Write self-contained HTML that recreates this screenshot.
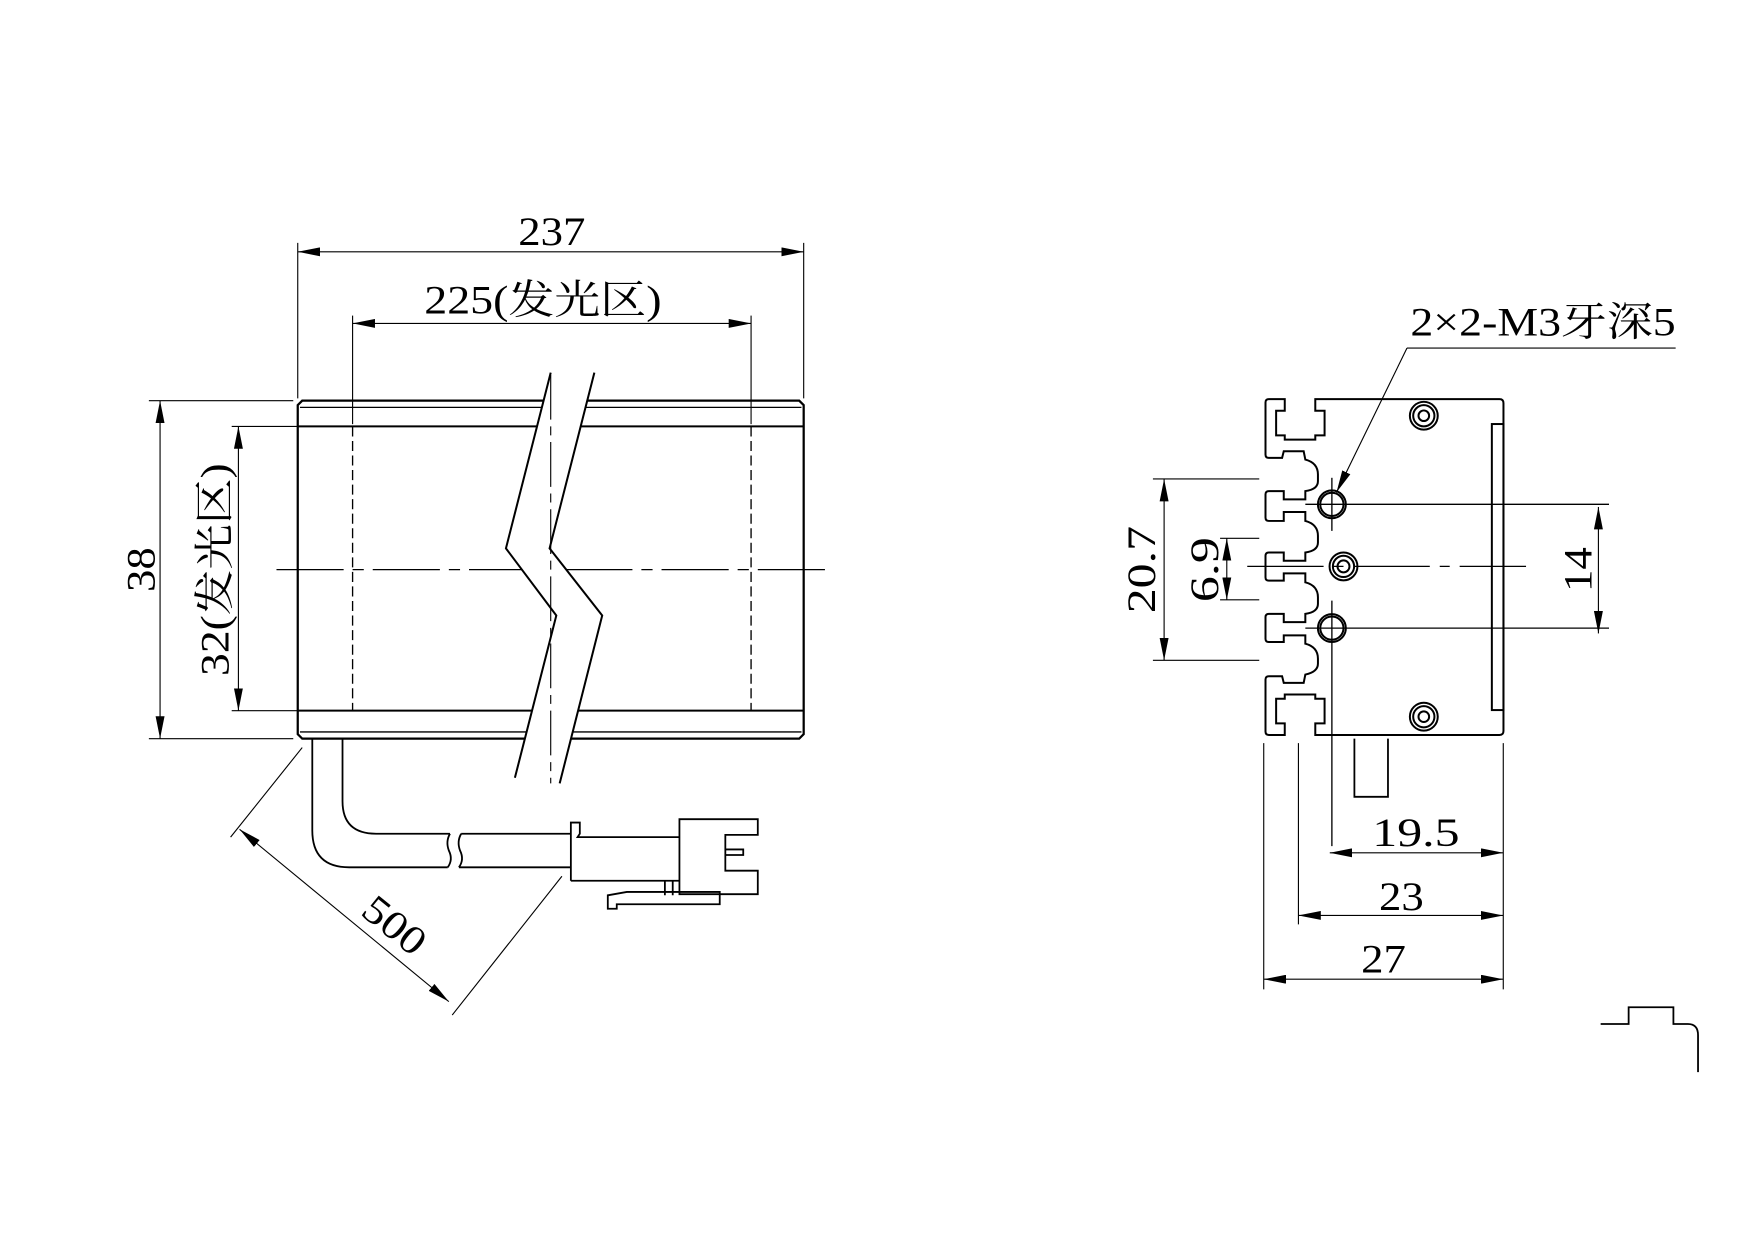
<!DOCTYPE html>
<html><head><meta charset="utf-8"><style>html,body{margin:0;padding:0;background:#fff}svg{display:block}text{font-family:"Liberation Serif","Noto Serif CJK SC",serif;fill:#000}</style></head>
<body>
<svg width="1754" height="1240" viewBox="0 0 1567 1108" preserveAspectRatio="none" xmlns="http://www.w3.org/2000/svg">
<defs>
<marker id="a" viewBox="0 0 20 8" refX="20" refY="4" markerWidth="20" markerHeight="8" markerUnits="userSpaceOnUse" orient="auto-start-reverse"><path d="M0,0 L20,4 L0,8 z" fill="#000"/></marker>
</defs>
<g fill="none" stroke="#000" stroke-width="1.2">
<path d="M270,358 L714,358 L718,362 L718,656 L714,660 L270,660 L266,656 L266,362 z" stroke-width="2"/>
<line x1="268" y1="364" x2="716" y2="364"/>
<line x1="268" y1="654" x2="716" y2="654"/>
<line x1="266" y1="381" x2="718" y2="381" stroke-width="1.8"/>
<line x1="266" y1="635" x2="718" y2="635" stroke-width="1.8"/>
<line x1="315" y1="381" x2="315" y2="635" stroke-dasharray="9,4"/>
<line x1="671" y1="381" x2="671" y2="635" stroke-dasharray="9,4"/>
<line x1="247" y1="509" x2="740" y2="509" stroke-dasharray="60,8,10,8"/>
</g>
<path d="M492,333 L452,490 L497,550 L460,695 L500,700 L538,550 L491,490 L531,333 z" fill="#fff" stroke="none"/>
<line x1="492" y1="335" x2="492" y2="700" stroke="#000" stroke-width="1" stroke-dasharray="40,6,8,6"/>
<g fill="none" stroke="#000" stroke-width="1.8">
<polyline points="492,333 452,490 497,550 460,695"/>
<polyline points="531,333 491,490 538,550 500,700"/>
</g>
<g fill="none" stroke="#000" stroke-width="1">
<line x1="266" y1="217" x2="266" y2="356"/>
<line x1="718" y1="217" x2="718" y2="356"/>
<line x1="266" y1="225" x2="718" y2="225" marker-start="url(#a)" marker-end="url(#a)"/>
<line x1="315" y1="282" x2="315" y2="379"/>
<line x1="671" y1="282" x2="671" y2="379"/>
<line x1="315" y1="289" x2="671" y2="289" marker-start="url(#a)" marker-end="url(#a)"/>
<line x1="133" y1="358" x2="262" y2="358"/>
<line x1="133" y1="660" x2="262" y2="660"/>
<line x1="143" y1="358" x2="143" y2="660" marker-start="url(#a)" marker-end="url(#a)"/>
<line x1="207" y1="381" x2="266" y2="381"/>
<line x1="207" y1="635" x2="266" y2="635"/>
<line x1="213" y1="381" x2="213" y2="635" marker-start="url(#a)" marker-end="url(#a)"/>
<line x1="270" y1="668" x2="206" y2="748"/>
<line x1="502" y1="783" x2="404" y2="907"/>
<line x1="214" y1="741" x2="401" y2="895" marker-start="url(#a)" marker-end="url(#a)"/>
</g>
<g fill="none" stroke="#000" stroke-width="1.6">
<path d="M279,660 L279,742 Q279,775 312,775 L400,775"/>
<path d="M306,660 L306,716 Q306,745 336,745 L402,745"/>
<path d="M402,745 Q398,752 401,760 Q405,768 400,775"/>
<path d="M412,745 Q408,752 411,760 Q415,768 410,775"/>
<line x1="412" y1="745" x2="510" y2="745"/>
<line x1="410" y1="775" x2="510" y2="775"/>
<path d="M510,787 L510,735 L518,735 L518,745 L516,748 L607,748"/>
<line x1="510" y1="787" x2="607" y2="787"/>
<path d="M607,732 L677,732 L677,746 L648,746 L648,778 L677,778 L677,799 L607,799 z"/>
<path d="M648,759 L664,759 L664,764 L648,764"/>
<path d="M594,787 L594,800 M601,787 L601,800"/>
<path d="M543,812 L543,800 L560,797 L605,797 L643,797 L643,808 L551,808 L551,812 z"/>
</g>
<g font-size="36">
<text x="493" y="219" text-anchor="middle" textLength="60" lengthAdjust="spacingAndGlyphs">237</text>
<text x="485" y="280" text-anchor="middle" textLength="212" lengthAdjust="spacingAndGlyphs">225(发光区)</text>
<text transform="translate(138,509) rotate(-90)" text-anchor="middle" textLength="40" lengthAdjust="spacingAndGlyphs">38</text>
<text transform="translate(204,509) rotate(-90)" text-anchor="middle" textLength="190" lengthAdjust="spacingAndGlyphs">32(发光区)</text>
<text transform="translate(345,836) rotate(39)" text-anchor="middle" textLength="62" lengthAdjust="spacingAndGlyphs">500</text>
</g>
<g transform="translate(985.3,311.3) scale(0.2965)" fill="none" stroke="#000" stroke-width="6">
<path d="M640,153 L1195,153 Q1207,153 1207,165 L1207,1153 Q1207,1165 1195,1165 L640,1165 L640,1130 L668,1130 L668,1056 L640,1056 L640,1043 L548,1043 L548,1056 L522,1056 L522,1130 L548,1130 L548,1165 L500,1165 Q490,1165 490,1155 L490,998 Q490,988 500,988 L540,988 L545,1008 L605,1008 L610,983 Q648,975 648,950 L648,935 Q648,900 610,890 L610,865 L545,865 L545,885 L500,885 Q490,885 490,875 L490,810 Q490,800 500,800 L545,800 L545,825 L610,825 L610,800 Q648,795 648,770 L648,750 Q648,715 610,705 L610,678 L545,678 L545,700 L500,700 Q490,700 490,690 L490,625 Q490,615 500,615 L545,615 L545,640 L610,640 L610,615 Q648,610 648,585 L648,565 Q648,530 610,520 L610,493 L545,493 L545,520 L500,520 Q490,520 490,510 L490,440 Q490,430 500,430 L545,430 L545,455 L610,455 L610,430 Q648,425 648,400 L648,380 Q648,345 610,335 L605,310 L545,310 L540,330 L500,330 Q490,330 490,320 L490,163 Q490,153 500,153 L548,153 L548,188 L522,188 L522,262 L548,262 L548,275 L640,275 L640,262 L668,262 L668,188 L640,188 z"/>
<rect x="1172" y="228" width="35" height="862"/>
<circle cx="967" cy="203" r="42"/><circle cx="967" cy="203" r="32"/><circle cx="967" cy="203" r="16"/>
<circle cx="967" cy="1110" r="42"/><circle cx="967" cy="1110" r="32"/><circle cx="967" cy="1110" r="16"/>
<circle cx="690" cy="470" r="42"/><circle cx="690" cy="470" r="35"/>
<circle cx="690" cy="843" r="42"/><circle cx="690" cy="843" r="35"/>
<circle cx="725" cy="657" r="42"/><circle cx="725" cy="657" r="32"/><circle cx="725" cy="657" r="18"/>
<g stroke-width="4">
<line x1="610" y1="470" x2="1525" y2="470"/>
<line x1="610" y1="843" x2="1525" y2="843"/>
<line x1="435" y1="657" x2="1275" y2="657" stroke-dasharray="230,30,30,30"/>
<line x1="690" y1="390" x2="690" y2="550"/>
<line x1="690" y1="760" x2="690" y2="1500"/>
</g>
</g>
<g fill="none" stroke="#000" stroke-width="1">
<line x1="1257" y1="311" x2="1497" y2="311"/>
<line x1="1257" y1="311" x2="1194" y2="440" marker-end="url(#a)"/>
<line x1="1428" y1="453" x2="1428" y2="566" marker-start="url(#a)" marker-end="url(#a)"/>
<line x1="1030" y1="428" x2="1125" y2="428"/>
<line x1="1030" y1="590" x2="1125" y2="590"/>
<line x1="1040" y1="428" x2="1040" y2="590" marker-start="url(#a)" marker-end="url(#a)"/>
<line x1="1090" y1="481" x2="1125" y2="481"/>
<line x1="1090" y1="536" x2="1125" y2="536"/>
<line x1="1096" y1="481" x2="1096" y2="536" marker-start="url(#a)" marker-end="url(#a)"/>
<line x1="1129" y1="664" x2="1129" y2="884"/>
<line x1="1160" y1="664" x2="1160" y2="826"/>
<line x1="1343" y1="664" x2="1343" y2="884"/>
<line x1="1188" y1="762" x2="1343" y2="762" marker-start="url(#a)" marker-end="url(#a)"/>
<line x1="1160" y1="818" x2="1343" y2="818" marker-start="url(#a)" marker-end="url(#a)"/>
<line x1="1129" y1="875" x2="1343" y2="875" marker-start="url(#a)" marker-end="url(#a)"/>
</g>
<g fill="none" stroke="#000" stroke-width="1.6">
<path d="M1210,660 L1210,712 L1240,712 L1240,660"/>
<path d="M1430,915 L1455,915 L1455,900 L1495,900 L1495,915 L1508,915 Q1517,915 1517,925 L1517,958"/>
</g>
<g font-size="36">
<text x="1260" y="300" textLength="237" lengthAdjust="spacingAndGlyphs">2×2-M3牙深5</text>
<text transform="translate(1422,509) rotate(-90)" text-anchor="middle" textLength="40" lengthAdjust="spacingAndGlyphs">14</text>
<text transform="translate(1032,509) rotate(-90)" text-anchor="middle" textLength="78" lengthAdjust="spacingAndGlyphs">20.7</text>
<text transform="translate(1088,509) rotate(-90)" text-anchor="middle" textLength="58" lengthAdjust="spacingAndGlyphs">6.9</text>
<text x="1265" y="756" text-anchor="middle" textLength="78" lengthAdjust="spacingAndGlyphs">19.5</text>
<text x="1252" y="813" text-anchor="middle" textLength="40" lengthAdjust="spacingAndGlyphs">23</text>
<text x="1236" y="869" text-anchor="middle" textLength="40" lengthAdjust="spacingAndGlyphs">27</text>
</g>
</svg>
</body></html>
